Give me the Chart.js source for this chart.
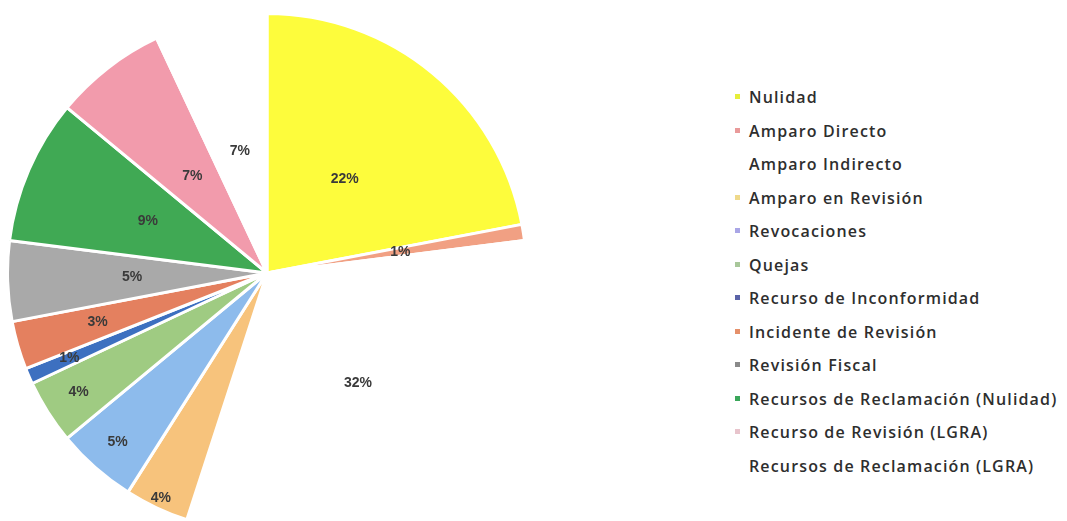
<!DOCTYPE html>
<html>
<head>
<meta charset="utf-8">
<script src="https://cdn.jsdelivr.net/npm/chart.js@4.4.1/dist/chart.umd.min.js"></script>
<style>
  html, body { margin: 0; padding: 0; background: #fff; overflow: hidden; }
  body { width: 1067px; height: 521px; position: relative; }
  #pieBox { position: absolute; left: 6px; top: 12px; width: 522px; height: 522px; }
  #legend { position: absolute; left: 735px; top: 84px; margin: 0; padding: 0; list-style: none;
    font-family: "Open Sans", sans-serif; font-size: 16px; font-weight: 600; color: #2e2e2e; letter-spacing: 1.15px; }
  #legend li { height: 33.5px; line-height: 26px; white-space: nowrap; }
  #legend span.box { display: inline-block; width: 5px; height: 5px; margin-right: 9px; vertical-align: middle; position: relative; top: -2px; }
</style>
</head>
<body>
<div id="pieBox"><canvas id="pieChart"></canvas></div>
<ul id="legend"></ul>
<script>
// categories and their share (%)
const labels = [
  'Nulidad',
  'Amparo Directo',
  'Amparo Indirecto',
  'Amparo en Revisión',
  'Revocaciones',
  'Quejas',
  'Recurso de Inconformidad',
  'Incidente de Revisión',
  'Revisión Fiscal',
  'Recursos de Reclamación (Nulidad)',
  'Recurso de Revisión (LGRA)',
  'Recursos de Reclamación (LGRA)'
];
const values = [22, 1, 32, 4, 5, 4, 1, 3, 5, 9, 7, 7];

const colors = ['#fdfc3c', '#f1a083', '#ffffff', '#f7c37c', '#8dbbec', '#9fcb82', '#3d70c0',
  '#e4805f', '#a9a9a9', '#40a954', '#f29bac', '#ffffff'];
const legendColors = ['#e6ee3a', '#e99a9a', '#ffffff', '#efd98a', '#a9a6e6', '#a8c79a', '#5a63a8',
  '#e5906a', '#8a8a8a', '#3aa65a', '#e8c4cc', '#ffffff'];
// how far out (fraction of radius) each % label sits
const labelPos = [0.47, 0.52, 0.55, 0.96, 0.87, 0.86, 0.83, 0.68, 0.52, 0.5, 0.47, 0.48];

const pctLabels = {
  id: 'pctLabels',
  afterDatasetsDraw(chart) {
    const ctx = chart.ctx;
    const meta = chart.getDatasetMeta(0);
    const total = values.reduce((a, b) => a + b, 0);
    ctx.save();
    ctx.font = 'bold 14px "Liberation Sans", sans-serif';
    ctx.fillStyle = '#3a3a3a';
    ctx.textAlign = 'center';
    ctx.textBaseline = 'middle';
    meta.data.forEach((arc, i) => {
      const p = arc.getProps(['x', 'y', 'startAngle', 'endAngle', 'outerRadius'], true);
      const mid = (p.startAngle + p.endAngle) / 2;
      const r = p.outerRadius * labelPos[i];
      const pct = Math.round(values[i] / total * 100) + '%';
      ctx.fillText(pct, p.x + Math.cos(mid) * r, p.y + Math.sin(mid) * r);
    });
    ctx.restore();
  }
};

var pieChart = new Chart(document.getElementById('pieChart'), {
  type: 'pie',
  data: {
    labels: labels,
    datasets: [{
      data: values,
      backgroundColor: colors,
      borderColor: '#ffffff',
      borderWidth: 3
    }]
  },
  options: {
    responsive: true,
    maintainAspectRatio: false,
    animation: false,
    plugins: {
      legend: { display: false },
      tooltip: { enabled: false }
    }
  },
  plugins: [pctLabels]
});

// legend on the right, built from the chart data
const ul = document.getElementById('legend');
pieChart.data.labels.forEach((lab, i) => {
  const li = document.createElement('li');
  const box = document.createElement('span');
  box.className = 'box';
  box.style.background = legendColors[i];
  li.appendChild(box);
  li.appendChild(document.createTextNode(lab));
  ul.appendChild(li);
});
</script>
</body>
</html>
